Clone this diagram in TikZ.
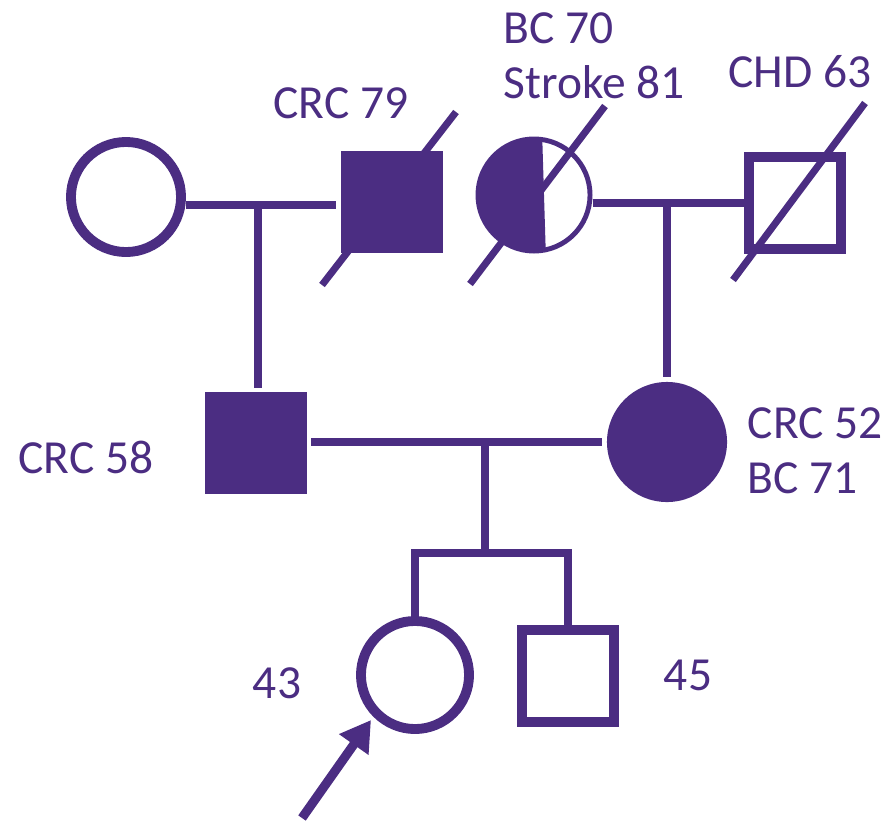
\documentclass[tikz,border=0pt]{standalone}
\usepackage{fontspec}
\setmainfont{Carlito}
\usetikzlibrary{arrows.meta,calc}
\definecolor{pedpurple}{RGB}{75,45,130}
\tikzset{
	male/.style={draw=pedpurple, line width=2.8pt, minimum size=0.92cm, inner sep=0pt, rectangle},
	female/.style={draw=pedpurple, line width=2.8pt, minimum size=1.10cm, inner sep=0pt, circle},
	affected/.style={fill=pedpurple, draw=none, minimum size=1.01cm},
	famline/.style={draw=pedpurple, line width=2.1pt},
	deceased/.style={draw=pedpurple, line width=2pt},
	agelabel/.style={text=pedpurple, inner sep=0pt, font=\fontsize{13.5}{15.5}\selectfont}
}

\begin{document}
\begin{tikzpicture}[x=0.01cm, y=-0.01cm]
        \useasboundingbox (0,0) rectangle (888,821);
        % Grosseltern vaeterlicherseits
        \node[female] (gmP) at (126,197) {};
        \draw[deceased] (322,285) -- (456,112);
        \node[male, affected, minimum size=1.02cm] (gpP) at (392,202) {};
        % Grosseltern muetterlicherseits
        \node[female, line width=1.4pt, minimum size=1.12cm] (gmM) at (534,195) {};
        \begin{scope}
            \clip (gmM.center) circle (56);
            \fill[pedpurple] (470,130) -- (542,130) -- (546,260) -- (470,260) -- cycle;
        \end{scope}
        \draw[deceased] (470,284) -- (605,106);
        \node[male] (gpM) at (795,203) {};
        \draw[deceased] (733,280) -- (865,103);
        % Eltern
        \node[male, affected] (father) at (256,443) {};
        \node[female, affected, minimum size=1.20cm] (mother) at (667,442) {};
        % Kinder
        \node[female, minimum size=1.08cm] (proband) at (415,675) {};
        \node[male] (brother) at (568,676) {};
        % Partnerlinien
        \draw[famline] (gmP.east |- 0,205) -- (gpP.west |- 0,205);
        \coordinate (kidsP) at (258,205);
        \draw[famline] (kidsP) -- (kidsP |- father.north);
        \draw[famline] (gmM.east |- 0,203) -- (gpM.west |- 0,203);
        \coordinate (kidsM) at (667,203);
        \draw[famline] (kidsM) -- (mother.north);
        \draw[famline] (father.east |- 0,442) -- (mother.west);
        \coordinate (kids) at (485,442);
        \coordinate (sibs) at (485,553);
        \draw[famline] (kids) -- (sibs);
        \draw[famline] (proband.north) -- (proband.north |- sibs) -- (brother.north |- sibs) -- (brother.north);
        % Pfeil
        \coordinate (tail) at (302,818);
        \draw[pedpurple, line width=2.6pt, -{Triangle[width=0.34cm, length=0.30cm]}] (tail) -- (371,720);
        % Beschriftung
        \node[agelabel] (l79) at (341,103) {CRC 79};
        \node[agelabel, anchor=north west, align=left] (l70) at (503,12) {BC 70\\Stroke 81};
        \node[agelabel] (l63) at (800,72) {CHD 63};
        \node[agelabel] (l58) at (86,457) {CRC 58};
        \node[agelabel, anchor=north west, align=left] (l52) at (747,407) {CRC 52\\BC 71};
        \node[agelabel] (l43) at (277,683) {43};
        \node[agelabel] (l45) at (688,675) {45};
    \end{tikzpicture}
\end{document}
